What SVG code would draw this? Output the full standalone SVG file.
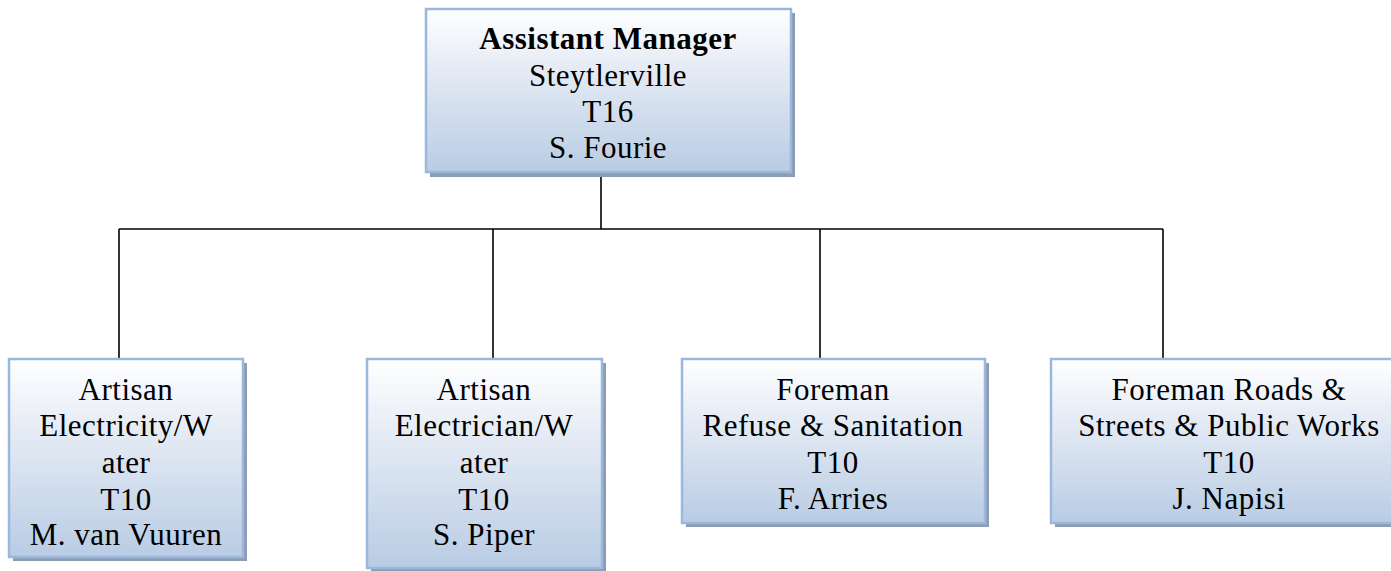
<svg xmlns="http://www.w3.org/2000/svg" width="1391" height="571" viewBox="0 0 1391 571">
  <defs>
    <linearGradient id="boxFill" x1="0" y1="0" x2="0" y2="1">
      <stop offset="0" stop-color="#ffffff"/>
      <stop offset="0.35" stop-color="#e6ecf5"/>
      <stop offset="1" stop-color="#b9cce4"/>
    </linearGradient>
    <style>
      .shadow { fill: #8e9cb2; }
      .box { fill: url(#boxFill); stroke: #9ab8dd; stroke-width: 2.5; }
      .label { font-family: "Liberation Serif", "DejaVu Serif", serif; font-size: 31px; letter-spacing: 0.5px; fill: #000; text-anchor: middle; }
      .bold { font-weight: bold; }
      .link { fill: none; stroke: #000; stroke-width: 1.6; }
    </style>
  </defs>

  <rect width="1391" height="571" fill="#ffffff"/>

  <!-- connectors -->
  <g id="connectors">
    <path class="link" d="M601,177 V229"/>
    <path class="link" d="M119,229 H1163"/>
    <path class="link" d="M119,229 V359"/>
    <path class="link" d="M493,229 V359"/>
    <path class="link" d="M820,229 V359"/>
    <path class="link" d="M1163,229 V359"/>
  </g>

  <!-- head of unit -->
  <g id="assistant-manager">
    <rect class="shadow" x="430" y="13" width="365" height="164"/>
    <rect class="box" x="426" y="9" width="365" height="163"/>
    <text class="label bold" x="608" y="49">Assistant Manager</text>
    <text class="label" x="608" y="86">Steytlerville</text>
    <text class="label" x="608" y="122">T16</text>
    <text class="label" x="608" y="158">S. Fourie</text>
  </g>

  <g id="artisan-electricity">
    <rect class="shadow" x="13" y="363" width="234" height="198"/>
    <rect class="box" x="9" y="359" width="234" height="198"/>
    <text class="label" x="126" y="400">Artisan</text>
    <text class="label" x="126" y="436">Electricity/W</text>
    <text class="label" x="126" y="473">ater</text>
    <text class="label" x="126" y="510">T10</text>
    <text class="label" x="126" y="545">M. van Vuuren</text>
  </g>

  <g id="artisan-electrician">
    <rect class="shadow" x="371" y="363" width="235" height="212"/>
    <rect class="box" x="367" y="359" width="235" height="209"/>
    <text class="label" x="484" y="400">Artisan</text>
    <text class="label" x="484" y="436">Electrician/W</text>
    <text class="label" x="484" y="473">ater</text>
    <text class="label" x="484" y="510">T10</text>
    <text class="label" x="484" y="545">S. Piper</text>
  </g>

  <g id="foreman-refuse">
    <rect class="shadow" x="686" y="363" width="303" height="164"/>
    <rect class="box" x="682" y="359" width="303" height="164"/>
    <text class="label" x="833" y="400">Foreman</text>
    <text class="label" x="833" y="436">Refuse &amp; Sanitation</text>
    <text class="label" x="833" y="473">T10</text>
    <text class="label" x="833" y="509">F. Arries</text>
  </g>

  <g id="foreman-roads">
    <rect class="shadow" x="1055" y="363" width="357" height="164"/>
    <rect class="box" x="1051" y="359" width="357" height="164"/>
    <text class="label" x="1229" y="400">Foreman Roads &amp;</text>
    <text class="label" x="1229" y="436">Streets &amp; Public Works</text>
    <text class="label" x="1229" y="473">T10</text>
    <text class="label" x="1229" y="509">J. Napisi</text>
  </g>
</svg>
